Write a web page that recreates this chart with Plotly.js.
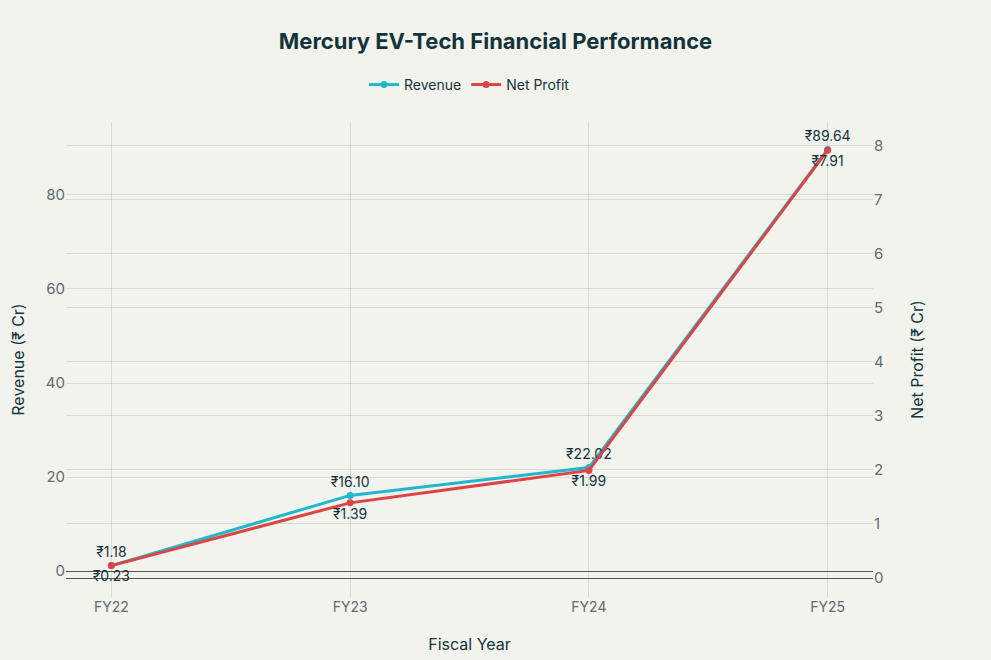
<!DOCTYPE html>
<html>
<head>
<meta charset="utf-8">
<script src="https://cdn.plot.ly/plotly-3.0.1.min.js"></script>
<style>
  html, body { margin: 0; padding: 0; background: #F3F3EE; }
  #chart { width: 991px; height: 660px; }
</style>
</head>
<body>
<div id="chart"></div>
<script>
// data --------------------------------------------------------------
const years = ["FY22", "FY23", "FY24", "FY25"];
const revenue = [1.18, 16.10, 22.02, 89.64];
const netProfit = [0.23, 1.39, 1.99, 7.91];

const revenueLabels = revenue.map(v => "₹" + v.toFixed(2));
const profitLabels = netProfit.map(v => "₹" + v.toFixed(2));

// plot --------------------------------------------------------------
const fontFamily = "Inter, 'Open Sans', sans-serif";

var data = [
    {
        x: years, y: revenue, name: "Revenue",
        mode: "lines+markers+text", text: revenueLabels, textposition: "top center",
        line: { color: "#1FB8CD", width: 3 }, marker: { size: 7, color: "#1FB8CD" },
        textfont: { size: 14, color: "#13343B" },
        cliponaxis: false, yaxis: "y"
    },
    {
        x: years, y: netProfit, name: "Net Profit",
        mode: "lines+markers+text", text: profitLabels, textposition: "bottom center",
        line: { color: "#DB4545", width: 3 }, marker: { size: 7, color: "#DB4545" },
        textfont: { size: 14, color: "#13343B" },
        cliponaxis: false, yaxis: "y2"
    }
];

var layout = {
    width: 991, height: 660,
    paper_bgcolor: "#F3F3EE",
    plot_bgcolor: "#F3F3EE",
    font: { family: fontFamily, size: 14, color: "#13343B" },
    margin: { l: 66, r: 118, t: 122, b: 63 },
    title: {
        text: "<b>Mercury EV-Tech Financial Performance</b>",
        font: { size: 22, color: "#13343B" },
        x: 0.5, xanchor: "center", y: 0.937, yanchor: "middle"
    },
    showlegend: true,
    legend: {
        orientation: "h", x: 0.5, xanchor: "center", y: 1.078, yanchor: "middle",
        font: { size: 14, color: "#13343B" }
    },
    xaxis: {
        type: "category",
        range: [-0.19, 3.19],
        title: { text: "Fiscal Year", font: { size: 16, color: "#13343B" }, standoff: 24 },
        tickfont: { size: 14, color: "#5F6B70" },
        showgrid: true, gridcolor: "rgba(0,0,0,0.1)",
        showline: false, zeroline: false
    },
    yaxis: {
        range: [-5.5, 95.5],
        title: { text: "Revenue (₹ Cr)", font: { size: 16, color: "#13343B" } },
        tickfont: { size: 15, color: "#5F6B70" },
        tickvals: [0, 20, 40, 60, 80],
        showgrid: true, gridcolor: "rgba(0,0,0,0.1)",
        zeroline: true, zerolinecolor: "#555", zerolinewidth: 1,
        showline: false
    },
    yaxis2: {
        overlaying: "y", side: "right",
        range: [-0.35, 8.43],
        title: { text: "Net Profit (₹ Cr)", font: { size: 16, color: "#13343B" } },
        tickfont: { size: 15, color: "#5F6B70" },
        dtick: 1,
        showgrid: true, gridcolor: "rgba(0,0,0,0.1)",
        zeroline: true, zerolinecolor: "#555", zerolinewidth: 1,
        showline: false
    }
};

Plotly.newPlot("chart", data, layout, { displayModeBar: false });
</script>
</body>
</html>
